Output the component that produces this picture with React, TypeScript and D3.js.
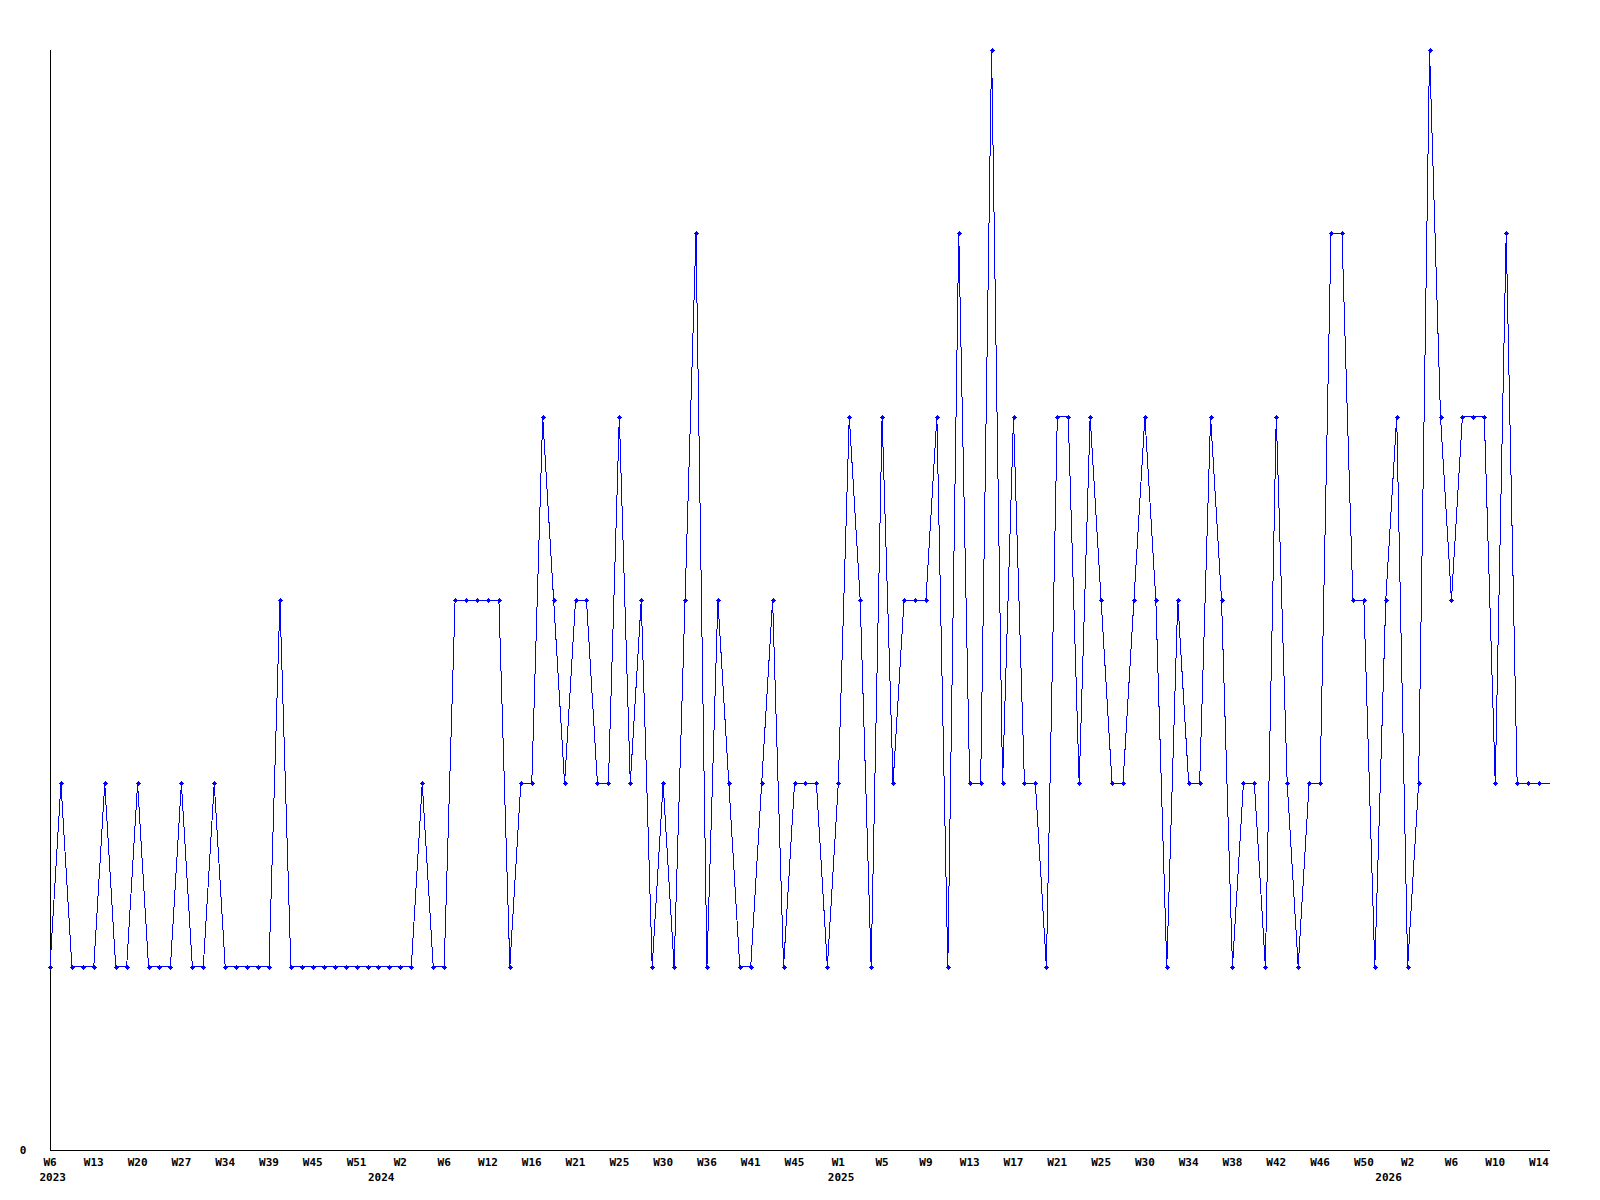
import React from "react";
import * as d3 from "d3";

const values: number[] = [
  1, 2, 1, 1, 1, 2, 1, 1, 2, 1,
  1, 1, 2, 1, 1, 2, 1, 1, 1, 1,
  1, 3, 1, 1, 1, 1, 1, 1, 1, 1,
  1, 1, 1, 1, 2, 1, 1, 3, 3, 3,
  3, 3, 1, 2, 2, 4, 3, 2, 3, 3,
  2, 2, 4, 2, 3, 1, 2, 1, 3, 5,
  1, 3, 2, 1, 1, 2, 3, 1, 2, 2,
  2, 1, 2, 4, 3, 1, 4, 2, 3, 3,
  3, 4, 1, 5, 2, 2, 6, 2, 4, 2,
  2, 1, 4, 4, 2, 4, 3, 2, 2, 3,
  4, 3, 1, 3, 2, 2, 4, 3, 1, 2,
  2, 1, 4, 2, 1, 2, 2, 5, 5, 3,
  3, 1, 3, 4, 1, 2, 6, 4, 3, 4,
  4, 4, 2, 5, 2, 2, 2, 2,
];

// week tick labels, one every 4 points
const tickLabels: string[] = [
  "W6", "W13", "W20", "W27", "W34", "W39", "W45", "W51", "W2", "W6",
  "W12", "W16", "W21", "W25", "W30", "W36", "W41", "W45", "W1", "W5",
  "W9", "W13", "W17", "W21", "W25", "W30", "W34", "W38", "W42", "W46",
  "W50", "W2", "W6", "W10", "W14",
];
const tickEvery = 4;

const yearLabels: string[] = ["2023", "2024", "2025", "2026"];
const yearStartIndex: number[] = [0, 30, 72, 122];

const yTickValues: number[] = [0];

export default function App() {
  const W = 1600;
  const H = 1200;
  const left = 50, right = 1550, top = 50, bottom = 1150;
  const x = d3.scaleLinear().domain([0, values.length - 1]).range([left, right]);
  const y = d3.scaleLinear().domain([0, 6]).range([bottom, top]);
  const line = d3.line<number>().x((_, i) => x(i)).y((d) => y(d));
  const font = "'DejaVu Sans Mono', 'Liberation Mono', monospace";

  return (
    <svg
      width={W}
      height={H}
      style={{ position: "absolute", left: 0, top: 0, background: "#fff" }}
    >
      <rect x={0} y={0} width={W} height={H} fill="#fff" />
      <line x1={left + 0.5} x2={left + 0.5} y1={top} y2={bottom} stroke="#000" strokeWidth={1} shapeRendering="crispEdges" />
      <line x1={left} x2={right} y1={bottom + 0.5} y2={bottom + 0.5} stroke="#000" strokeWidth={1} shapeRendering="crispEdges" />
      <path d={line(values) || ""} fill="none" stroke="#0000ff" strokeWidth={1} shapeRendering="crispEdges" />
      {values.slice(0, values.length - 1).map((v, i) => {
        const cx = Math.round(x(i));
        const cy = Math.round(y(v));
        return (
          <g key={i} fill="#0000ff" shapeRendering="crispEdges">
            <rect x={cx - 2} y={cy} width={5} height={1} />
            <rect x={cx} y={cy - 2} width={1} height={5} />
            <rect x={cx - 1} y={cy - 1} width={3} height={3} />
          </g>
        );
      })}
      {yTickValues.map((t) => (
        <text key={t} x={23} y={y(t)} dy="0.35em" textAnchor="middle" fontFamily={font} fontWeight="bold" fontSize={11} fill="#000">
          {t}
        </text>
      ))}
      {tickLabels.map((lab, k) => (
        <text key={k} x={x(k * tickEvery)} y={1162} dy="0.35em" textAnchor="middle" fontFamily={font} fontWeight="bold" fontSize={11} fill="#000">
          {lab}
        </text>
      ))}
      {yearLabels.map((lab, k) => (
        <text key={lab} x={x(yearStartIndex[k]) - 10.5} y={1177} dy="0.35em" textAnchor="start" fontFamily={font} fontWeight="bold" fontSize={11} fill="#000">
          {lab}
        </text>
      ))}
    </svg>
  );
}
